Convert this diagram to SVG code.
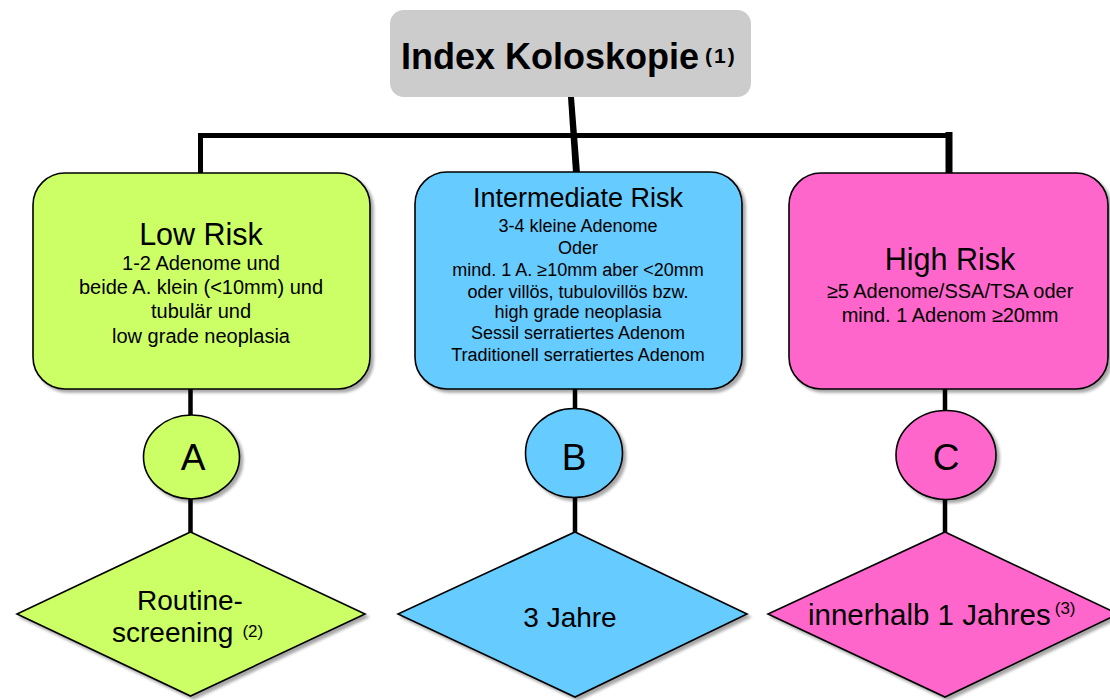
<svg xmlns="http://www.w3.org/2000/svg" width="1110" height="700" viewBox="0 0 1110 700">
<defs>
<filter id="sh" x="-10%" y="-10%" width="130%" height="130%">
<feGaussianBlur in="SourceAlpha" stdDeviation="1.5"/>
<feOffset dx="3" dy="3" result="b"/>
<feComponentTransfer><feFuncA type="linear" slope="0.35"/></feComponentTransfer>
<feMerge><feMergeNode/><feMergeNode in="SourceGraphic"/></feMerge>
</filter>
<style>
text{font-family:"Liberation Sans",Arial,sans-serif;fill:#000;text-anchor:middle}
.shape{stroke:#000;stroke-width:1.6}
.g{fill:#ccff66}.b{fill:#66ccff}.p{fill:#ff66cc}
.con{stroke:#000;fill:none;stroke-linecap:butt}
.t1{font-size:30.5px}.t2{font-size:27px}
.body{font-size:20px}.bodys{font-size:18px}
.dia{font-size:28px}.sup{font-size:17px}
.letter{font-size:37px}
</style>
</defs>
<rect width="1110" height="700" fill="#fff"/>
<g id="connectors">
<polygon points="568,97 574,97 580,173 573,173" fill="#000"/>
<polyline class="con" points="200.5,175 200.5,135.5 949,135.5 949,175" stroke-width="5"/>
<line class="con" x1="949" y1="132" x2="949" y2="175" stroke-width="7"/>
<line class="con" x1="190.5" y1="389" x2="190.5" y2="416" stroke-width="4.5"/>
<line class="con" x1="190.5" y1="498" x2="190.5" y2="533" stroke-width="4.5"/>
<line class="con" x1="575" y1="389" x2="575" y2="409" stroke-width="4.5"/>
<line class="con" x1="575" y1="498" x2="575" y2="533" stroke-width="4.5"/>
<line class="con" x1="945" y1="389" x2="945" y2="411" stroke-width="4.5"/>
<line class="con" x1="945" y1="499" x2="945" y2="533" stroke-width="4.5"/>
</g>
<g id="index">
<rect x="390" y="10" width="361" height="87" rx="14" fill="#cccccc"/>
<text x="401" y="69" style="text-anchor:start;font-size:36px;font-weight:bold">Index Koloskopie<tspan dx="6" dy="-6" style="font-size:21px;letter-spacing:2px">(1)</tspan></text>
</g>
<g id="low">
<rect class="shape g" x="33" y="173" width="337" height="216" rx="32" filter="url(#sh)"/>
<text class="t1" x="201" y="245">Low Risk</text>
<text class="body" x="201" y="270">1-2 Adenome und</text>
<text class="body" x="201" y="294">beide A. klein (&lt;10mm) und</text>
<text class="body" x="201" y="318">tubulär und</text>
<text class="body" x="201" y="343">low grade neoplasia</text>
</g>
<g id="intermediate">
<rect class="shape b" x="415" y="172" width="327" height="217" rx="32" filter="url(#sh)"/>
<text class="t2" x="578" y="207">Intermediate Risk</text>
<text class="bodys" x="578" y="232">3-4 kleine Adenome</text>
<text class="bodys" x="578" y="254">Oder</text>
<text class="bodys" x="578" y="276">mind. 1 A. ≥10mm aber &lt;20mm</text>
<text class="bodys" x="578" y="298">oder villös, tubulovillös bzw.</text>
<text class="bodys" x="578" y="318">high grade neoplasia</text>
<text class="bodys" x="578" y="339">Sessil serratiertes Adenom</text>
<text class="bodys" x="578" y="361">Traditionell serratiertes Adenom</text>
</g>
<g id="high">
<rect class="shape p" x="789" y="173" width="319" height="216" rx="32" filter="url(#sh)"/>
<text class="t1" x="950" y="270">High Risk</text>
<text class="body" x="950" y="298">≥5 Adenome/SSA/TSA oder</text>
<text class="body" x="950" y="322">mind. 1 Adenom ≥20mm</text>
</g>
<g id="circleA">
<ellipse class="shape g" cx="191.5" cy="457" rx="48" ry="42" filter="url(#sh)"/>
<text class="letter" x="193" y="470">A</text>
</g>
<g id="circleB">
<ellipse class="shape b" cx="574" cy="453" rx="48.5" ry="44.5" filter="url(#sh)"/>
<text class="letter" x="574" y="470">B</text>
</g>
<g id="circleC">
<ellipse class="shape p" cx="946" cy="455" rx="50" ry="44.5" filter="url(#sh)"/>
<text class="letter" x="946" y="470">C</text>
</g>
<g id="diamondA">
<polygon class="shape g" points="190.5,532 365,614 190.5,696 17,614" filter="url(#sh)"/>
<text class="dia" x="190" y="610">Routine-</text>
<text class="dia" x="112" y="642" style="text-anchor:start">screening<tspan class="sup" dx="9" dy="-5">(2)</tspan></text>
</g>
<g id="diamondB">
<polygon class="shape b" points="575,532 747,614 575,697 398,614" filter="url(#sh)"/>
<text class="dia" x="570" y="627">3 Jahre</text>
</g>
<g id="diamondC">
<polygon class="shape p" points="945,532 1118,614 945,697 768,614" filter="url(#sh)"/>
<text class="dia" x="808" y="625" style="text-anchor:start;font-size:29.5px">innerhalb 1 Jahres<tspan class="sup" dx="4" dy="-11">(3)</tspan></text>
</g>
</svg>
